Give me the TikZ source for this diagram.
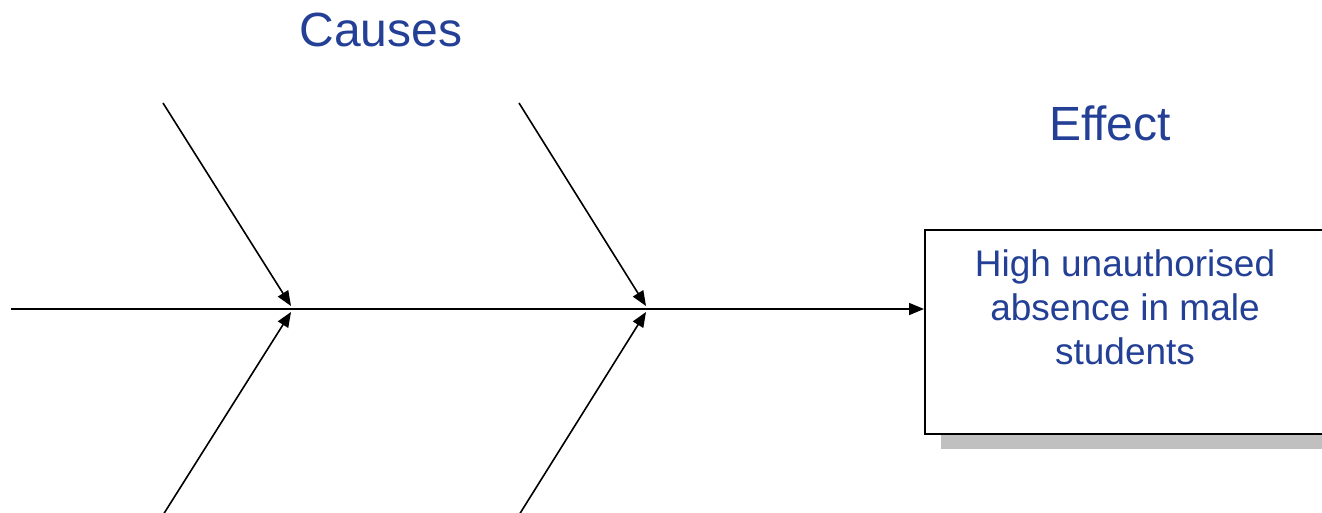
\documentclass[tikz,border=0pt]{standalone}
\usepackage{fontspec}
\setmainfont{Liberation Sans}
\usetikzlibrary{arrows.meta}
\definecolor{txtblue}{RGB}{35,64,150}
\definecolor{shadowgray}{RGB}{192,192,192}
\begin{document}
\begin{tikzpicture}[x=1pt,y=-1pt,
  bone/.style={line width=1.6pt,-{Triangle[length=15pt,width=12pt]}},
  title/.style={text=txtblue,font=\fontsize{48}{56}\selectfont,inner sep=0pt}]
\useasboundingbox (0,0) rectangle (1322,512);
\clip (0,0) rectangle (1322,512);
% shadow and effect box
\fill[shadowgray] (941,245) rectangle (1360,449);
\node[draw=black,fill=white,line width=1.6pt,minimum width=436pt,minimum height=204pt,
  anchor=north west,inner sep=0pt] (box) at (924,229) {};
\node[text=txtblue,font=\fontsize{37}{44}\selectfont,align=center,anchor=north,inner sep=0pt]
  (efftext) at (1125,249) {High unauthorised\\absence in male\\students};
\node[title] (causes) at (381,30) {Causes};
\node[title] (effect) at (1110,123) {Effect};
% spine
\coordinate (s0) at (11,309);
\coordinate (j1) at (290,309);
\coordinate (j2) at (645,309);
\coordinate (u1) at (163,103);
\coordinate (l1) at (163,515);
\coordinate (u2) at (519,103);
\coordinate (l2) at (519,515);
\coordinate (t1u) at (291,306);
\coordinate (t1l) at (291,312);
\coordinate (t2u) at (646,306);
\coordinate (t2l) at (646,312);
\draw[line width=1.6pt] (s0) -- (j1);
\draw[line width=1.6pt] (j1) -- (j2);
\draw[bone] (j2) -- (box.west |- j2);
\draw[bone] (u1) -- (t1u);
\draw[bone] (l1) -- (t1l);
\draw[bone] (u2) -- (t2u);
\draw[bone] (l2) -- (t2l);
\end{tikzpicture}
\end{document}
